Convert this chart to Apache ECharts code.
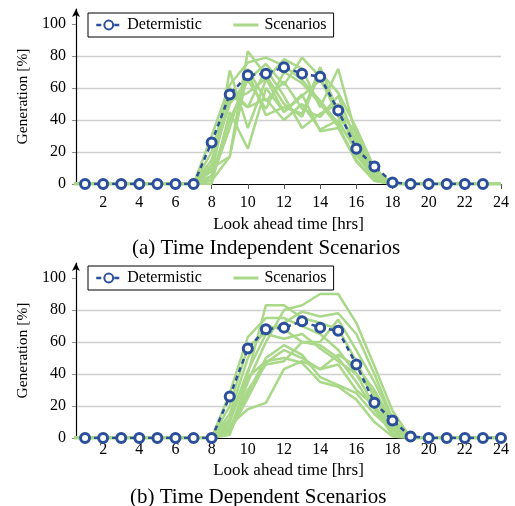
<!DOCTYPE html>
<html>
<head>
<meta charset="utf-8">
<script src="https://cdn.jsdelivr.net/npm/echarts@6/dist/echarts.min.js"></script>
<style>
  html, body { margin: 0; padding: 0; background: #fff; }
  #main { width: 515px; height: 506px; }
</style>
</head>
<body>
<div id="main"></div>
<script>
// hours 0..24 (axis starts at 0.5, so hour 0 is clipped)
var hours = [0, 1, 2, 3, 4, 5, 6, 7, 8, 9, 10, 11, 12, 13, 14, 15, 16, 17, 18, 19, 20, 21, 22, 23, 24];
var xTicks = [2, 4, 6, 8, 10, 12, 14, 16, 18, 20, 22, 24];
var yTicks = [0, 20, 40, 60, 80, 100];

// (a) time independent
var detHoursA = [1, 2, 3, 4, 5, 6, 7, 8, 9, 10, 11, 12, 13, 14, 15, 16, 17, 18, 19, 20, 21, 22, 23];
var detA = [0, 0, 0, 0, 0, 0, 0, 26, 56, 68, 69, 73, 69, 67, 46, 22, 11, 1, 0, 0, 0, 0, 0];
var scenA = [
  [0, 0, 0, 0, 0, 0, 0, 0, 5, 71, 35, 65, 78, 72, 48, 72, 30, 5, 0, 0, 0, 0, 0, 0, 0],
  [0, 0, 0, 0, 0, 0, 0, 0, 30, 62, 76, 79, 74, 65, 52, 38, 22, 3, 0, 0, 0, 0, 0, 0, 0],
  [0, 0, 0, 0, 0, 0, 0, 0, 10, 17, 83, 68, 50, 42, 70, 57, 35, 10, 0, 0, 0, 0, 0, 0, 0],
  [0, 0, 0, 0, 0, 0, 0, 0, 0, 45, 22, 60, 45, 56, 33, 35, 14, 2, 0, 0, 0, 0, 0, 0, 0],
  [0, 0, 0, 0, 0, 0, 0, 0, 15, 50, 65, 75, 62, 79, 67, 42, 28, 8, 0, 0, 0, 0, 0, 0, 0],
  [0, 0, 0, 0, 0, 0, 0, 0, 8, 56, 48, 72, 55, 35, 44, 50, 18, 4, 0, 0, 0, 0, 0, 0, 0],
  [0, 0, 0, 0, 0, 0, 0, 0, 2, 17, 70, 43, 48, 44, 73, 45, 25, 6, 0, 0, 0, 0, 0, 0, 0],
  [0, 0, 0, 0, 0, 0, 0, 0, 20, 60, 48, 53, 40, 50, 34, 40, 20, 3, 0, 0, 0, 0, 0, 0, 0],
  [0, 0, 0, 0, 0, 0, 0, 0, 5, 40, 65, 47, 70, 63, 50, 36, 15, 2, 0, 0, 0, 0, 0, 0, 0],
  [0, 0, 0, 0, 0, 0, 0, 0, 12, 52, 57, 66, 45, 55, 65, 46, 32, 9, 0, 0, 0, 0, 0, 0, 0],
  [0, 0, 0, 0, 0, 0, 0, 0, 3, 35, 72, 52, 64, 47, 42, 55, 26, 4, 0, 0, 0, 0, 0, 0, 0]
];

// (b) time dependent
var detHoursB = [1, 2, 3, 4, 5, 6, 7, 8, 9, 10, 11, 12, 13, 14, 15, 16, 17, 18, 19, 20, 21, 22, 23, 24];
var detB = [0, 0, 0, 0, 0, 0, 0, 0, 26, 56, 68, 69, 73, 69, 67, 46, 22, 11, 1, 0, 0, 0, 0, 0];
var scenB = [
  [0, 0, 0, 0, 0, 0, 0, 0, 0, 10, 40, 83, 83, 75, 72, 68, 48, 25, 5, 0, 0, 0, 0, 0, 0],
  [0, 0, 0, 0, 0, 0, 0, 0, 0, 28, 63, 75, 75, 70, 65, 55, 40, 20, 3, 0, 0, 0, 0, 0, 0],
  [0, 0, 0, 0, 0, 0, 0, 0, 0, 5, 35, 60, 80, 83, 90, 90, 72, 45, 17, 0, 0, 0, 0, 0, 0],
  [0, 0, 0, 0, 0, 0, 0, 0, 0, 3, 28, 50, 58, 52, 38, 33, 28, 15, 5, 0, 0, 0, 0, 0, 0],
  [0, 0, 0, 0, 0, 0, 0, 0, 0, 8, 18, 22, 43, 48, 43, 52, 45, 30, 10, 0, 0, 0, 0, 0, 0],
  [0, 0, 0, 0, 0, 0, 0, 0, 0, 15, 50, 70, 68, 60, 58, 50, 35, 18, 2, 0, 0, 0, 0, 0, 0],
  [0, 0, 0, 0, 0, 0, 0, 0, 0, 2, 38, 48, 50, 47, 35, 32, 24, 10, 1, 0, 0, 0, 0, 0, 0],
  [0, 0, 0, 0, 0, 0, 0, 0, 0, 20, 57, 66, 72, 79, 76, 78, 65, 40, 12, 0, 0, 0, 0, 0, 0],
  [0, 0, 0, 0, 0, 0, 0, 0, 0, 12, 42, 65, 62, 65, 56, 48, 40, 28, 8, 0, 0, 0, 0, 0, 0],
  [0, 0, 0, 0, 0, 0, 0, 0, 0, 6, 30, 46, 48, 60, 60, 74, 55, 35, 12, 0, 0, 0, 0, 0, 0],
  [0, 0, 0, 0, 0, 0, 0, 0, 0, 4, 25, 47, 55, 50, 43, 46, 30, 20, 6, 0, 0, 0, 0, 0, 0]
];

var serif = 'Liberation Serif';
var green = '#a8d888';
var blue = '#2c4f9c';

function pairs(xs, ys) {
  var out = [];
  for (var i = 0; i < xs.length; i++) out.push([xs[i], ys[i]]);
  return out;
}

function xAx(idx, tickLen, margin, gap) {
  return {
    type: 'value', gridIndex: idx, min: 0.5, max: 24,
    name: 'Look ahead time [hrs]', nameLocation: 'middle', nameGap: gap,
    nameTextStyle: { fontFamily: serif, fontSize: 17, color: '#000' },
    axisLine: { onZero: false, lineStyle: { color: '#000', width: 1.2 } },
    axisTick: { show: tickLen > 0, length: tickLen, customValues: xTicks, lineStyle: { color: '#555' } },
    axisLabel: { customValues: xTicks, margin: margin, fontFamily: serif, fontSize: 16, color: '#000' },
    splitLine: { show: false }
  };
}

function yAx(idx) {
  return {
    type: 'value', gridIndex: idx, min: 0, max: 109.4,
    name: 'Generation [%]', nameLocation: 'middle', nameGap: 44, nameRotate: 90,
    nameTextStyle: { fontFamily: serif, fontSize: 15.5, color: '#000' },
    axisLine: { show: true, symbol: ['none', 'arrow'], symbolSize: [6, 8], lineStyle: { color: '#000', width: 1.2 } },
    axisTick: { show: true, length: 4, customValues: yTicks, lineStyle: { color: '#888' } },
    axisLabel: { customValues: yTicks, margin: 10, fontFamily: serif, fontSize: 16, color: '#000' },
    splitLine: { show: true, showMinLine: false, showMaxLine: false, lineStyle: { color: '#cfcfcf', width: 1.3 } }
  };
}

var series = [];
function addPanel(idx, scen, detX, detY) {
  for (var i = 0; i < scen.length; i++) {
    series.push({
      name: 'Scenarios', type: 'line', xAxisIndex: idx, yAxisIndex: idx,
      data: pairs(hours, scen[i]), showSymbol: false, symbol: 'none',
      lineStyle: { color: green, width: 2.5 }, itemStyle: { color: green },
      z: 2, animation: false
    });
  }
  series.push({
    name: 'Determistic', type: 'line', xAxisIndex: idx, yAxisIndex: idx,
    data: pairs(detX, detY), symbol: 'circle', symbolSize: 9,
    lineStyle: { color: blue, width: 2.5, type: [5, 4] },
    itemStyle: { color: '#fff', borderColor: blue, borderWidth: 3 },
    z: 5, animation: false
  });
}
addPanel(0, scenA, detHoursA, detA);
addPanel(1, scenB, detHoursB, detB);

function legend(top) {
  return {
    left: 88, top: top, orient: 'horizontal',
    data: [
      { name: 'Determistic', lineStyle: { width: 2.5 } },
      { name: 'Scenarios', lineStyle: { width: 3 },
        itemStyle: { color: 'rgba(0,0,0,0)', borderColor: 'rgba(0,0,0,0)', borderWidth: 0 } }
    ],
    borderColor: '#000', borderWidth: 1, padding: [4, 7],
    itemWidth: 25, itemHeight: 11, itemGap: 30, selectedMode: false,
    textStyle: { fontFamily: serif, fontSize: 16, color: '#000', padding: [0, 0, 0, 1] }
  };
}

var chart = echarts.init(document.getElementById('main'));
chart.setOption({
  backgroundColor: '#fff',
  animation: false,
  title: [
    { text: '(a) Time Independent Scenarios', left: 127, top: 233,
      textStyle: { fontFamily: serif, fontSize: 21, fontWeight: 'normal', color: '#000' } },
    { text: '(b) Time Dependent Scenarios', left: 125, top: 482,
      textStyle: { fontFamily: serif, fontSize: 21, fontWeight: 'normal', color: '#000' } }
  ],
  legend: [legend(13), legend(266)],
  grid: [
    { left: 76, top: 9, width: 425, height: 175 },
    { left: 76, top: 263, width: 425, height: 175 }
  ],
  xAxis: [xAx(0, 5, 11, 32), xAx(1, 0, 4, 24)],
  yAxis: [yAx(0), yAx(1)],
  series: series
});
</script>
</body>
</html>
